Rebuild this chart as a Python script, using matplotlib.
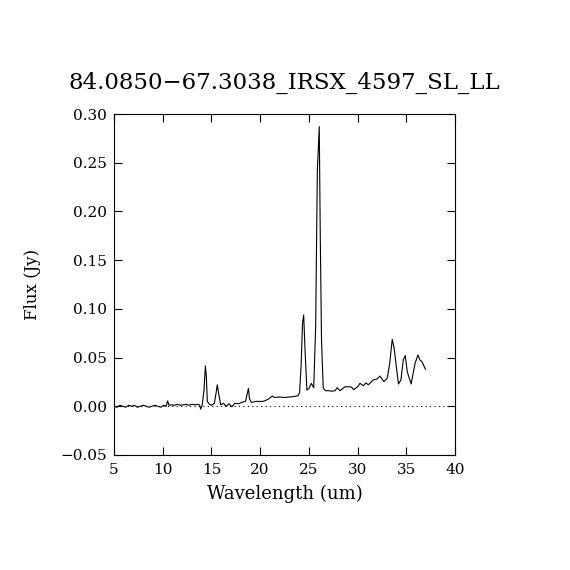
import matplotlib
matplotlib.use("Agg")
import matplotlib.pyplot as plt
import numpy as np

title = "84.0850\u221267.3038_IRSX_4597_SL_LL"
xlabel = "Wavelength (um)"
ylabel = "Flux (Jy)"

wavelength = [5.0, 5.3, 5.6, 5.9, 6.2, 6.5, 6.8, 7.1, 7.4, 7.7, 8.0, 8.3, 8.6, 8.9,
              9.2, 9.5, 9.8, 10.1, 10.35, 10.5, 10.65, 10.9, 11.2, 11.5, 11.8, 12.1,
              12.4, 12.7, 13.0, 13.3, 13.6, 13.8, 13.9, 14.05, 14.24, 14.38, 14.48,
              14.58, 14.8, 15.0, 15.3, 15.5, 15.6, 15.75, 15.95, 16.25, 16.5, 16.8,
              17.1, 17.4, 17.8, 18.1, 18.5, 18.7, 18.8, 18.9, 19.1, 19.6, 20.3, 20.8,
              21.25, 21.5, 22.0, 22.5, 23.0, 23.5, 23.9, 24.05, 24.2, 24.35, 24.47,
              24.6, 24.8, 25.0, 25.25, 25.5, 25.7, 25.87, 26.07, 26.17, 26.3, 26.48,
              26.7, 27.0, 27.4, 27.7, 27.9, 28.2, 28.7, 29.1, 29.4, 29.6, 30.0, 30.25,
              30.6, 30.86, 31.1, 31.4, 31.6, 32.0, 32.3, 32.7, 33.05, 33.3, 33.56,
              33.76, 34.0, 34.2, 34.45, 34.7, 34.9, 35.1, 35.5, 35.9, 36.2, 36.4,
              36.6, 36.97]
flux = [0.000, -0.001, 0.001, 0.000, -0.001, 0.001, 0.000, 0.001, -0.001, 0.000,
        0.001, 0.000, -0.001, 0.000, 0.001, 0.000, -0.001, 0.001, 0.000, 0.0055,
        0.001, 0.0015, 0.001, 0.002, 0.001, 0.0015, 0.002, 0.001, 0.002, 0.0015,
        0.002, 0.001, -0.003, 0.001, 0.0167, 0.0414, 0.030, 0.005, 0.002, 0.001,
        0.003, 0.015, 0.022, 0.0127, 0.0015, 0.003, 0.000, 0.0025, -0.0005, 0.003,
        0.0025, 0.004, 0.005, 0.014, 0.0185, 0.008, 0.004, 0.005, 0.005, 0.007,
        0.0105, 0.009, 0.0095, 0.009, 0.0095, 0.010, 0.011, 0.014, 0.040, 0.085,
        0.0937, 0.060, 0.0167, 0.018, 0.0235, 0.019, 0.0817, 0.241, 0.287, 0.178,
        0.068, 0.0185, 0.016, 0.016, 0.0155, 0.016, 0.019, 0.016, 0.020, 0.020,
        0.0195, 0.017, 0.020, 0.0236, 0.021, 0.024, 0.022, 0.025, 0.027, 0.028,
        0.031, 0.0253, 0.0288, 0.044, 0.0687, 0.0595, 0.039, 0.0229, 0.027, 0.048,
        0.052, 0.0355, 0.0229, 0.044, 0.0527, 0.0475, 0.046, 0.038]

xticks = [5, 10, 15, 20, 25, 30, 35, 40]
yticks = [-0.05, 0.00, 0.05, 0.10, 0.15, 0.20, 0.25, 0.30]

plt.rcParams['font.family'] = ['DejaVu Serif']
fig = plt.figure(figsize=(5.7, 5.7), dpi=100)
ax = fig.add_axes([0.2, 0.2018, 0.5982, 0.5982])
ax.plot(wavelength, flux, color='black', linewidth=0.8)
ax.axhline(0.0, color='black', linestyle=(0, (1, 3)), linewidth=0.8)
ax.set_xlim(5, 40)
ax.set_ylim(-0.05, 0.30)
ax.set_xticks(xticks)
ax.set_xticklabels([str(t) for t in xticks])
ax.set_yticks(yticks)
ax.set_yticklabels(["\u22120.05" if t < 0 else f"{t:.2f}" for t in yticks])
ax.tick_params(direction='in', length=6, width=0.8, top=True, right=True,
               labelsize=11, color='black')
ax.tick_params(axis='x', pad=6)
ax.tick_params(axis='y', pad=5)
for s in ax.spines.values():
    s.set_linewidth(0.8)
ax.set_xlabel(xlabel, fontsize=13, labelpad=5)
ax.set_ylabel(ylabel, fontsize=12, labelpad=14)
ax.set_title(title, fontsize=16.5, pad=18)
fig.savefig("out.png", dpi=100)
